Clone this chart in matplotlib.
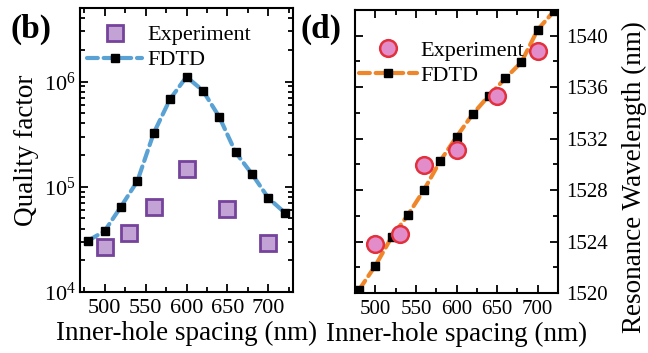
import math
import matplotlib
matplotlib.use("Agg")
import matplotlib.pyplot as plt
from matplotlib.ticker import MultipleLocator, FixedLocator, FuncFormatter, LogLocator, NullFormatter

# ---- data ----
fdtd_x = [480, 500, 520, 540, 560, 580, 600, 620, 640, 660, 680, 700, 720]
fdtd_q = [3.08e4, 3.79e4, 6.47e4, 1.13e5, 3.24e5, 6.82e5, 1.11e6, 8.2e5, 4.61e5,
          2.12e5, 1.32e5, 7.8e4, 5.67e4]
exp_x = [500, 530, 560, 600, 650, 700]
exp_q = [2.66e4, 3.6e4, 6.47e4, 1.47e5, 6.15e4, 2.92e4]

fdtd_wl = [1520.25, 1522.12, 1524.33, 1526.05, 1528.02, 1530.27, 1532.14, 1533.91,
           1535.35, 1536.68, 1537.95, 1540.47, 1541.9]
exp_wl = [1523.81, 1524.57, 1529.98, 1531.13, 1535.33, 1538.78]

xticks = [500, 550, 600, 650, 700]
q_ticks = [1e4, 1e5, 1e6]
wl_ticks = [1520, 1524, 1528, 1532, 1536, 1540]

plt.rcParams['font.family'] = ['Liberation Serif', 'DejaVu Serif']
plt.rcParams['mathtext.fontset'] = 'custom'
plt.rcParams['mathtext.rm'] = 'Liberation Serif'
plt.rcParams['mathtext.it'] = 'Liberation Serif:italic'

fig = plt.figure(figsize=(6.48, 3.53), dpi=100)
W, H = 648, 353
ax1 = fig.add_axes([80 / W, 1 - 292 / H, 213 / W, 284 / H])
ax2 = fig.add_axes([355 / W, 1 - 293 / H, 203 / W, 283 / H])

blue = '#5aa2d4'
orange = '#f0862a'

# left panel
ax1.plot(fdtd_x, fdtd_q, color=blue, lw=3.0, ls=(0, (2.6, 1.4)), dash_capstyle='round',
         marker='s', ms=6, mfc='black', mec='black', label='FDTD', zorder=2)
ax1.plot(exp_x, exp_q, ls='none', marker='s', ms=11, mfc='#c3a2d6', mec='#76439c',
         mew=2, label='Experiment', zorder=3)
ax1.set_yscale('log')
ax1.set_xlim(470, 730)
ax1.set_ylim(1e4, 5e6)
ax1.yaxis.set_major_locator(FixedLocator(q_ticks))
ax1.yaxis.set_major_formatter(FuncFormatter(lambda v, p: r'$\mathregular{10^{%d}}$' % round(math.log10(v))))
ax1.yaxis.set_minor_locator(LogLocator(base=10, subs=range(2, 10)))
ax1.yaxis.set_minor_formatter(NullFormatter())
ax1.set_ylabel('Quality factor', fontsize=19.5, va='center')
ax1.yaxis.set_label_coords((27 - 80) / 213, 0.5)

# right panel
ax2.plot(fdtd_x, fdtd_wl, color=orange, lw=3.0, ls=(0, (2.6, 1.4)), dash_capstyle='round',
         marker='s', ms=6, mfc='black', mec='black', label='FDTD', zorder=2)
ax2.plot(exp_x, exp_wl, ls='none', marker='o', ms=12, mfc='#e28cc9', mec='#e2303c',
         mew=1.8, label='Experiment', zorder=3)
ax2.set_xlim(475, 725)
ax2.set_ylim(1520, 1542)
ax2.yaxis.set_major_locator(FixedLocator(wl_ticks))
ax2.yaxis.set_minor_locator(MultipleLocator(2))
ax2.yaxis.set_label_position('right')
ax2.set_ylabel('Resonance Wavelength (nm)', fontsize=19.5, rotation=90, va='center')
ax2.yaxis.set_label_coords((634 - 355) / 203, (293 - 177) / 283)

for ax, ls in ((ax1, 16), (ax2, 15)):
    ax.xaxis.set_major_locator(FixedLocator(xticks))
    ax.xaxis.set_minor_locator(MultipleLocator(25))
    ax.set_xlabel('Inner-hole spacing (nm)', fontsize=19.5, labelpad=2)
    ax.tick_params(which='both', direction='in', top=True, right=True, left=True,
                   width=1.3, labelsize=ls)
    ax.tick_params(which='major', length=5.5)
    ax.tick_params(which='minor', length=3.5)
    ax.tick_params(axis='x', pad=5)
    for s in ax.spines.values():
        s.set_linewidth(1.5)

ax1.tick_params(axis='y', pad=3)
ax2.tick_params(axis='y', which='both', labelleft=False, labelright=True, pad=6)

h, l = ax1.get_legend_handles_labels()
ax1.legend(h[::-1], l[::-1], loc='upper left', bbox_to_anchor=(0.035, 0.941), frameon=False,
           fontsize=16, handlelength=2.45, handletextpad=0.25, labelspacing=0.2,
           borderpad=0, borderaxespad=0)
h, l = ax2.get_legend_handles_labels()
ax2.legend(h[::-1], l[::-1], loc='upper left', bbox_to_anchor=(0.02, 0.892), frameon=False,
           fontsize=16, handlelength=2.6, handletextpad=0.15, labelspacing=0.2,
           borderpad=0, borderaxespad=0)

fig.text(11 / W, 1 - 38 / H, '(b)', fontsize=24, fontweight='bold')
fig.text(301 / W, 1 - 38 / H, '(d)', fontsize=24, fontweight='bold')

fig.savefig('out.png', dpi=100)
